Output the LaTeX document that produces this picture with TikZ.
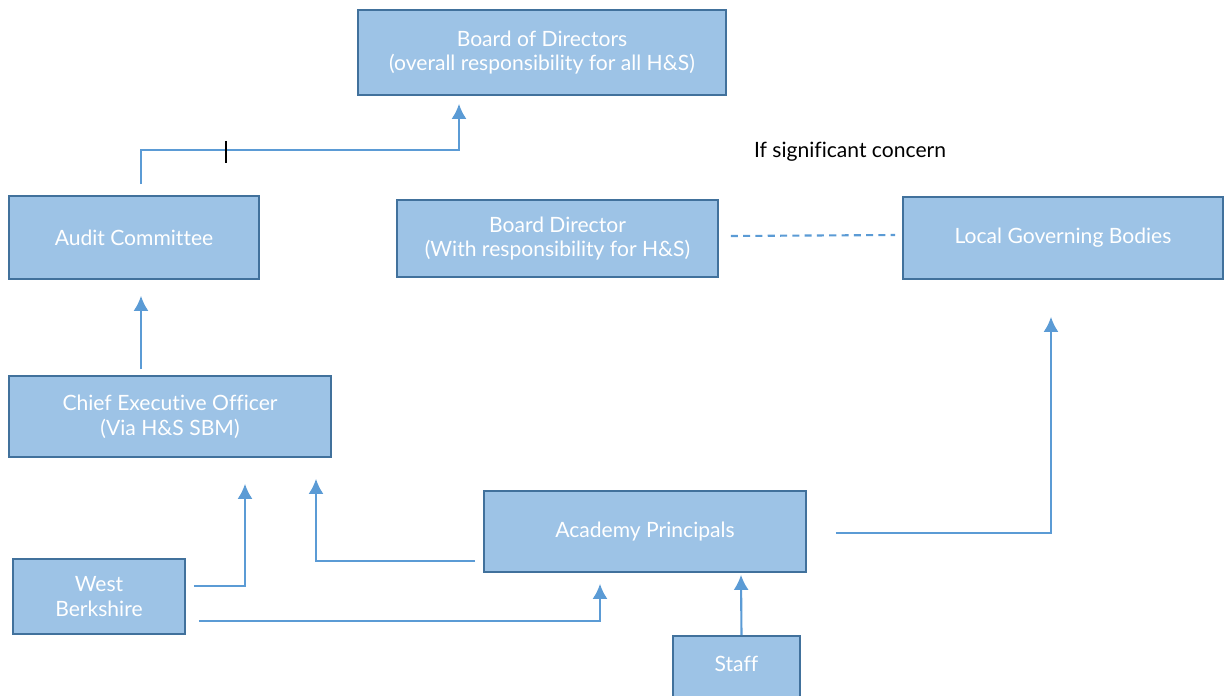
\documentclass[tikz,border=0pt]{standalone}
\usepackage{fontspec}
\setsansfont{Lato}[Ligatures=NoCommon]
\usepackage{tikz}
\usetikzlibrary{arrows.meta, positioning, calc}

\definecolor{boxfill}{HTML}{9DC3E6}
\definecolor{boxline}{HTML}{41719C}
\definecolor{linkblue}{HTML}{5B9BD5}

\begin{document}
\begin{tikzpicture}[x=0.02cm, y=-0.02cm, >={Latex[length=3mm,width=3mm]}, font=\sffamily]
        \tikzstyle{unit} = [draw=boxline, line width=1pt, fill=boxfill, rectangle, align=center, text=white, font=\sffamily\large, inner sep=2pt]
        \tikzstyle{link} = [draw=linkblue, line width=1.2pt]

        \clip (0,0) rectangle (1225,696);

        % Bestuur
        \node [unit, minimum width=7.36cm, minimum height=1.7cm] (board) at (542,52.5) {Board of Directors\\(overall responsibility for all H\&S)};
        \node [unit, minimum width=5cm, minimum height=1.66cm] (audit) at (134,237.5) {Audit Committee};
        \node [unit, minimum width=6.42cm, minimum height=1.54cm] (director) at (557.5,238.5) {Board Director\\(With responsibility for H\&S)};
        \node [unit, minimum width=6.4cm, minimum height=1.64cm] (lgb) at (1063,238) {Local Governing Bodies};

        % Uitvoering
        \node [unit, minimum width=6.44cm, minimum height=1.62cm] (ceo) at (170,416.5) {Chief Executive Officer\\(Via H\&S SBM)};
        \node [unit, minimum width=6.44cm, minimum height=1.62cm] (principals) at (645,531.5) {Academy Principals};
        \node [unit, minimum width=3.44cm, minimum height=1.5cm] (westb) at (99,596.5) {West\\Berkshire};
        \node [unit, minimum width=2.54cm, minimum height=1.68cm, text depth=5.5mm] (staff) at (736.5,678) {Staff};

        % Tekst boven de stippellijn
        \node [text=black, font=\sffamily\large] (concern) at (850,152) {If significant concern};

        % Verbindingen
        \draw [link, ->] ($(audit.north)+(7,-11)$) |- ($(board.south)+(-83,54)$) -- ($(board.south)+(-83,8)$);
        \draw [black, line width=1.2pt] (226,141) -- (226,163);
        \draw [link, ->] ($(ceo.north)+(-29,-6)$) -- ($(audit.south)+(7,16)$);
        \draw [link, ->] ($(westb.east)+(8,-10.5)$) -| ($(ceo.south)+(75,26)$);
        \draw [link, ->] ($(principals.west)+(-8,29.5)$) -| ($(ceo.south)+(146,21)$);
        \draw [link, ->] ($(westb.east)+(13,24.5)$) -| ($(principals.south)+(-45,11)$);
        \draw [link, ->] ($(staff.north)+(5,0)$) -- ($(principals.south)+(96,2)$);
        \draw [link, ->] ($(principals.east)+(29,1.5)$) -| ($(lgb.south)+(-12,37)$);
        \draw [link, dash pattern=on 4pt off 3pt] ($(director.east)+(12,-2.5)$) -- ($(lgb.west)+(-7,-3)$);

    \end{tikzpicture}
\end{document}
